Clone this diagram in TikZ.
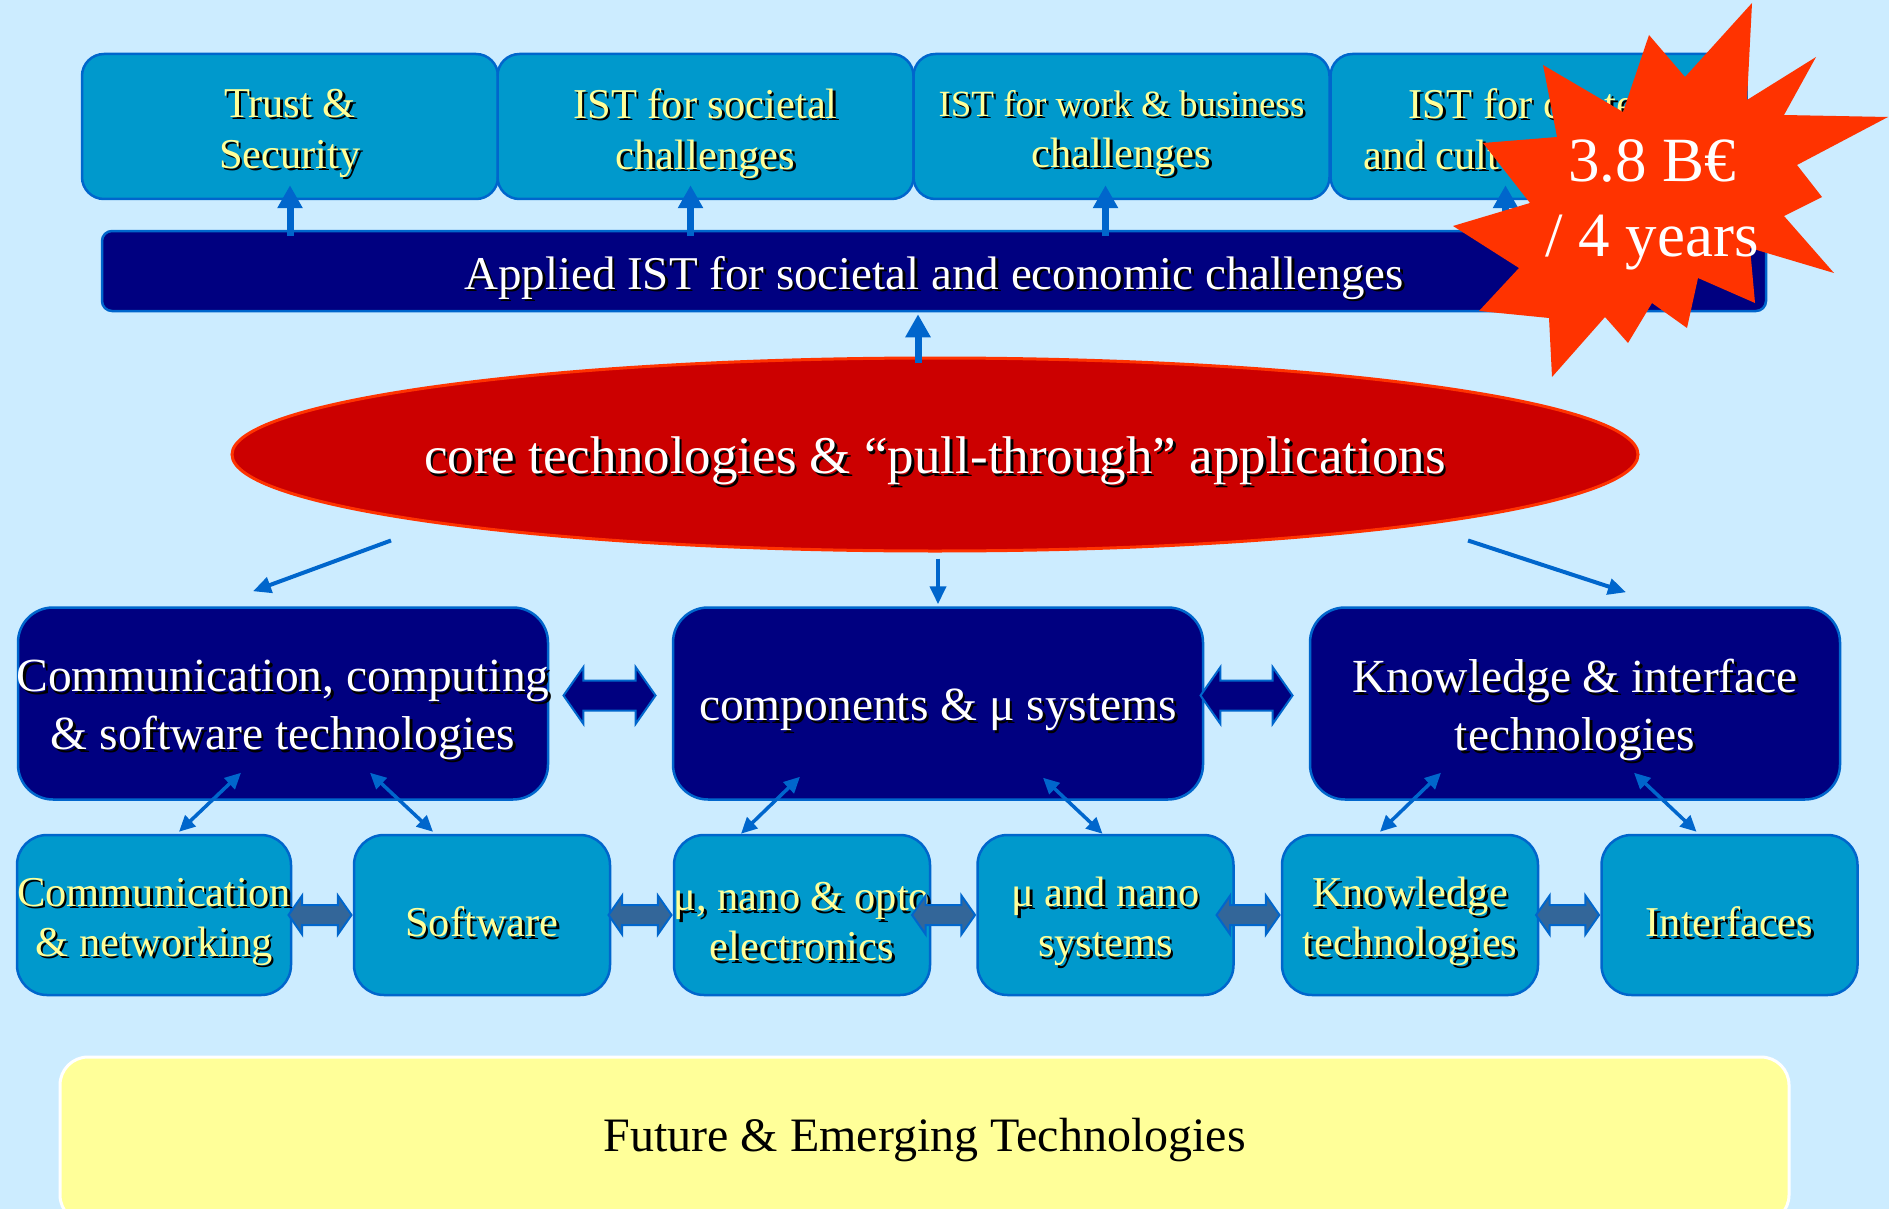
\documentclass[tikz,border=0pt]{standalone}
\usepackage{fontspec}
\setmainfont{Liberation Serif}
\usetikzlibrary{arrows.meta,shapes.geometric,shapes.arrows,calc}
\definecolor{skyback}{HTML}{CCECFF}
\definecolor{boxblue}{HTML}{0099CC}
\definecolor{edgeblue}{HTML}{0066CC}
\definecolor{deepnavy}{HTML}{000080}
\definecolor{corered}{HTML}{CC0000}
\definecolor{burstred}{HTML}{FF3300}
\definecolor{paleyellow}{HTML}{FFFF99}
\definecolor{steelblue}{HTML}{336699}
\newcommand\fsz[2]{\fontsize{#1}{#2}\selectfont}
\newcommand\shd[1]{\raisebox{-8pt}[\height][\depth]{\makebox[0pt]{\rlap{\hspace{2.5pt}\raisebox{-2.5pt}{\textcolor{black}{#1}}}#1}}}
\begin{document}
\begin{tikzpicture}[x=1pt,y=-1pt,
  every node/.style={inner sep=0pt,align=center},
  areabox/.style={draw=edgeblue,line width=2.5pt,fill=boxblue,rounded corners=22pt,
    minimum width=416pt,minimum height=145pt,text=paleyellow,font=\fsz{42.5}{51}},
  barbox/.style={draw=edgeblue,line width=2.5pt,fill=deepnavy,rounded corners=10pt,
    minimum width=1664pt,minimum height=80pt,text=white,font=\fsz{47}{56}},
  corebox/.style={ellipse,draw=burstred,line width=3pt,fill=corered,
    minimum width=1406pt,minimum height=193pt,text=white,font=\fsz{53}{60}},
  techbox/.style={draw=edgeblue,line width=2.5pt,fill=deepnavy,rounded corners=35pt,
    minimum width=530pt,minimum height=192pt,text=white,font=\fsz{47.5}{58}},
  subbox/.style={draw=edgeblue,line width=2.5pt,fill=boxblue,rounded corners=30pt,
    minimum width=256pt,minimum height=160pt,text=paleyellow,font=\fsz{42.5}{50}},
  fetbox/.style={draw=white,line width=3pt,fill=paleyellow,rounded corners=28pt,
    minimum width=1729pt,minimum height=166pt,font=\fsz{48}{56}},
  thickup/.style={draw=edgeblue,line width=7pt,-{Triangle[length=23pt,width=24pt]}},
  thinarrow/.style={draw=edgeblue,line width=4pt,-{Triangle[length=18pt,width=16pt]}},
  thinboth/.style={draw=edgeblue,line width=3.5pt,
    {Triangle[length=16pt,width=15pt]}-{Triangle[length=16pt,width=15pt]}},
  bigdbl/.style={double arrow,draw=edgeblue,line width=2pt,fill=deepnavy,
    inner xsep=0pt,inner ysep=14pt,minimum height=92pt,
    double arrow head extend=13.5pt,double arrow tip angle=110},
  smalldbl/.style={double arrow,draw=edgeblue,line width=2pt,fill=steelblue,
    inner xsep=0pt,inner ysep=9pt,minimum height=63pt,
    double arrow head extend=9.5pt,double arrow tip angle=110}]
\useasboundingbox (0,0) rectangle (1889,1209);
\clip (0,0) rectangle (1889,1209);
\fill[skyback] (0,0) rectangle (1889,1209);

\node[areabox] (trust) at (290,126.5) {\shd{Trust \&}\\\shd{Security}};
\node[areabox] (societal) at (705.5,126.5) {\shd{IST for societal}\\\shd{challenges}};
\node[areabox] (work) at (1121.5,126.5) {\shd{\fsz{37}{51}IST for work \& business}\\\shd{challenges}};
\node[areabox] (content) at (1538.5,126.5) {\shd{IST for content}\\\shd{and cultural heritage}};
\node[barbox] (applied) at (934,271) {\shd{Applied IST for societal and economic challenges}};
\node[corebox] (core) at (935,454.5) {\shd{core technologies \& “pull-through” applications}};

\node[techbox] (ccs) at (283,703.5) {\shd{Communication, computing}\\\shd{\& software technologies}};
\node[techbox] (comp) at (938,703.5) {\shd{components \& μ systems}};
\node[techbox] (know) at (1575,703.5) {\shd{Knowledge \& interface}\\\shd{technologies}};

\node[subbox,minimum width=274pt] (commnet) at (154,915) {\shd{Communication}\\\shd{\& networking}};
\node[subbox] (software) at (482,915) {\shd{Software}};
\node[subbox] (optoel) at (802,915) {\shd{μ, nano \& opto}\\\shd{electronics}};
\node[subbox] (nanosys) at (1105.5,915) {\shd{μ and nano}\\\shd{systems}};
\node[subbox] (knowtech) at (1410,915) {\shd{Knowledge}\\\shd{technologies}};
\node[subbox] (interf) at (1729.5,915) {\shd{Interfaces}};

\node[fetbox] (fet) at (924.5,1140) {Future \& Emerging Technologies};

\draw[thickup] ($(trust.south |- applied.north)+(0,6)$) -- ($(trust.south)+(0,-15)$);
\draw[thickup] ($(societal.south |- applied.north)+(-15,6)$) -- ($(societal.south)+(-15,-15)$);
\draw[thickup] ($(work.south |- applied.north)+(-16,6)$) -- ($(work.south)+(-16,-15)$);
\draw[thickup] ($(content.south |- applied.north)+(-33,6)$) -- ($(content.south)+(-33,-15)$);
\draw[thickup] ($(core.north)+(-17,6)$) -- ($(applied.south -| core.north)+(-17,2)$);

\draw[thinarrow] ($(core.center)+(-544,86)$) -- ($(ccs.north)+(-30,-15)$);
\draw[thinarrow] ($(core.south)+(3,6)$) -- ($(comp.north)+(0,-2)$);
\draw[thinarrow] ($(core.center)+(533,86)$) -- ($(know.north)+(51,-14)$);

\node[bigdbl,anchor=east] (link1) at ($(comp.west)+(-15,-8)$) {};
\node[bigdbl,anchor=east] (link2) at ($(know.west)+(-15,-8)$) {};

\draw[thinboth] ($(ccs.south)+(-42,-28)$) -- ($(commnet.north)+(25,-2)$);
\draw[thinboth] ($(ccs.south)+(87,-28)$) -- ($(software.north)+(-49,-2)$);
\draw[thinboth] ($(comp.south)+(-138,-24)$) -- ($(optoel.north)+(-61,0)$);
\draw[thinboth] ($(comp.south)+(105,-23)$) -- ($(nanosys.north)+(-3,0)$);
\draw[thinboth] ($(know.south)+(-134,-28)$) -- ($(knowtech.north)+(-30,-2)$);
\draw[thinboth] ($(know.south)+(59,-28)$) -- ($(interf.north)+(-33,-2)$);

\node[smalldbl,anchor=east] (pair1) at (software.west) {};
\node[smalldbl,anchor=east] (pair2) at (optoel.west) {};
\node[smalldbl,anchor=east] (pair3) at (nanosys.west) {};
\node[smalldbl,anchor=east] (pair4) at (knowtech.west) {};
\node[smalldbl,anchor=east] (pair5) at (interf.west) {};

\fill[burstred] (1752,3) -- (1747,100) -- (1816,57) -- (1784,115) -- (1888,117) -- (1797,165)
  -- (1822,197) -- (1784,216) -- (1834,273) -- (1750,248) -- (1755,303) -- (1698,278)
  -- (1687,328) -- (1652,303) -- (1628,343) -- (1605,317) -- (1552,377) -- (1549,318)
  -- (1479,311) -- (1519,268) -- (1453,226) -- (1530,203) -- (1483,143) -- (1557,137)
  -- (1543,65) -- (1623,112) -- (1649,35) -- (1685,77) -- cycle;
\node[text=white,font=\fsz{63}{75}] (budget) at (1652,205) {3.8 B€\\/ 4 years};
\end{tikzpicture}
\end{document}
